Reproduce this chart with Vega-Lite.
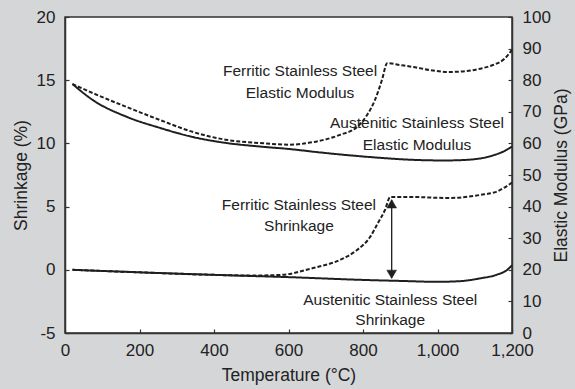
{
  "$schema": "https://vega.github.io/schema/vega-lite/v6.json",
  "width": 447,
  "height": 316,
  "autosize": {"type": "none"},
  "padding": {"left": 65, "top": 17, "right": 63, "bottom": 56},
  "background": "#d5d6d8",
  "config": {
    "view": {"fill": "white", "stroke": "#333333", "strokeWidth": 1.5},
    "font": "Liberation Sans",
    "text": {"font": "Liberation Sans"},
    "axis": {
      "labelFont": "Liberation Sans",
      "titleFont": "Liberation Sans",
      "labelFontSize": 17,
      "titleFontSize": 17.5,
      "titleFontWeight": "normal",
      "labelColor": "#222222",
      "titleColor": "#222222",
      "domainColor": "#333333",
      "domainWidth": 1.5,
      "tickColor": "#333333",
      "tickWidth": 1.2,
      "tickSize": -4,
      "grid": false
    }
  },
  "datasets": {
    "shrinkage": [
      {"series": "Ferritic", "T": 20, "s": 0},
      {"series": "Ferritic", "T": 200, "s": -0.2},
      {"series": "Ferritic", "T": 400, "s": -0.4},
      {"series": "Ferritic", "T": 500, "s": -0.45},
      {"series": "Ferritic", "T": 577, "s": -0.41},
      {"series": "Ferritic", "T": 666, "s": 0.14},
      {"series": "Ferritic", "T": 738, "s": 0.78},
      {"series": "Ferritic", "T": 784, "s": 1.57},
      {"series": "Ferritic", "T": 819, "s": 2.59},
      {"series": "Ferritic", "T": 840, "s": 3.7},
      {"series": "Ferritic", "T": 859, "s": 4.73},
      {"series": "Ferritic", "T": 873, "s": 5.76},
      {"series": "Ferritic", "T": 934, "s": 5.76},
      {"series": "Ferritic", "T": 1026, "s": 5.68},
      {"series": "Ferritic", "T": 1114, "s": 5.92},
      {"series": "Ferritic", "T": 1160, "s": 6.2},
      {"series": "Ferritic", "T": 1200, "s": 6.9},
      {"series": "Austenitic", "T": 20, "s": 0},
      {"series": "Austenitic", "T": 200, "s": -0.2},
      {"series": "Austenitic", "T": 400, "s": -0.4},
      {"series": "Austenitic", "T": 600, "s": -0.58},
      {"series": "Austenitic", "T": 800, "s": -0.8},
      {"series": "Austenitic", "T": 900, "s": -0.88},
      {"series": "Austenitic", "T": 1000, "s": -0.95},
      {"series": "Austenitic", "T": 1060, "s": -0.9},
      {"series": "Austenitic", "T": 1114, "s": -0.68},
      {"series": "Austenitic", "T": 1160, "s": -0.38},
      {"series": "Austenitic", "T": 1185, "s": -0.05},
      {"series": "Austenitic", "T": 1200, "s": 0.35}
    ],
    "modulus": [
      {"series": "Ferritic", "T": 20, "m": 78.8},
      {"series": "Ferritic", "T": 75, "m": 75.9},
      {"series": "Ferritic", "T": 166, "m": 71.5},
      {"series": "Ferritic", "T": 255, "m": 67.4},
      {"series": "Ferritic", "T": 344, "m": 63.6},
      {"series": "Ferritic", "T": 435, "m": 61.1},
      {"series": "Ferritic", "T": 524, "m": 60.1},
      {"series": "Ferritic", "T": 604, "m": 59.6},
      {"series": "Ferritic", "T": 666, "m": 60.4},
      {"series": "Ferritic", "T": 738, "m": 62.7},
      {"series": "Ferritic", "T": 784, "m": 65.2},
      {"series": "Ferritic", "T": 811, "m": 69.0},
      {"series": "Ferritic", "T": 832, "m": 73.7},
      {"series": "Ferritic", "T": 851, "m": 80.1},
      {"series": "Ferritic", "T": 865, "m": 85.4},
      {"series": "Ferritic", "T": 900, "m": 84.8},
      {"series": "Ferritic", "T": 934, "m": 84.2},
      {"series": "Ferritic", "T": 980, "m": 83.2},
      {"series": "Ferritic", "T": 1026, "m": 82.6},
      {"series": "Ferritic", "T": 1079, "m": 82.9},
      {"series": "Ferritic", "T": 1120, "m": 83.8},
      {"series": "Ferritic", "T": 1149, "m": 84.8},
      {"series": "Ferritic", "T": 1180, "m": 86.8},
      {"series": "Ferritic", "T": 1200, "m": 89.6},
      {"series": "Austenitic", "T": 20, "m": 78.8},
      {"series": "Austenitic", "T": 75, "m": 73.7},
      {"series": "Austenitic", "T": 166, "m": 68.4},
      {"series": "Austenitic", "T": 255, "m": 64.9},
      {"series": "Austenitic", "T": 344, "m": 62.0},
      {"series": "Austenitic", "T": 435, "m": 60.1},
      {"series": "Austenitic", "T": 524, "m": 59.0},
      {"series": "Austenitic", "T": 604, "m": 58.2},
      {"series": "Austenitic", "T": 680, "m": 57.2},
      {"series": "Austenitic", "T": 757, "m": 56.3},
      {"series": "Austenitic", "T": 850, "m": 55.4},
      {"series": "Austenitic", "T": 934, "m": 54.8},
      {"series": "Austenitic", "T": 1020, "m": 54.6},
      {"series": "Austenitic", "T": 1079, "m": 54.8},
      {"series": "Austenitic", "T": 1149, "m": 56.2},
      {"series": "Austenitic", "T": 1180, "m": 57.6},
      {"series": "Austenitic", "T": 1200, "m": 59.0}
    ],
    "labels": [
      {"T": 631, "s": 15.69, "text": "Ferritic Stainless Steel"},
      {"T": 631, "s": 13.95, "text": "Elastic Modulus"},
      {"T": 945, "s": 11.65, "text": "Austenitic Stainless Steel"},
      {"T": 945, "s": 9.91, "text": "Elastic Modulus"},
      {"T": 628, "s": 5.13, "text": "Ferritic Stainless Steel"},
      {"T": 628, "s": 3.43, "text": "Shrinkage"},
      {"T": 873, "s": -2.35, "text": "Austenitic Stainless Steel"},
      {"T": 873, "s": -3.97, "text": "Shrinkage"}
    ],
    "arrow": [
      {"T": 877, "s_top": 5.5, "s_bot": -0.6}
    ],
    "arrowheads": [
      {"T": 877, "s": 5.22, "dir": "up"},
      {"T": 877, "s": -0.36, "dir": "down"}
    ]
  },
  "layer": [
    {
      "layer": [
        {
          "data": {"name": "shrinkage"},
          "mark": {"type": "line", "interpolate": "monotone", "strokeWidth": 2, "color": "#1e1e1e"},
          "encoding": {
            "x": {"field": "T", "type": "quantitative", "scale": {"domain": [0, 1200], "nice": false},
                  "axis": {"title": "Temperature (°C)", "values": [0, 200, 400, 600, 800, 1000, 1200], "format": ",d", "labelPadding": 13, "titlePadding": 8, "labelFlush": false}},
            "y": {"field": "s", "type": "quantitative", "scale": {"domain": [-5, 20], "nice": false},
                  "axis": {"title": "Shrinkage (%)", "values": [-5, 0, 5, 10, 15, 20], "labelExpr": "datum.value < 0 ? '-' + abs(datum.value) : datum.label", "labelPadding": 14, "titlePadding": 6, "labelFlush": false}},
            "strokeDash": {"field": "series", "type": "nominal", "scale": {"domain": ["Ferritic", "Austenitic"], "range": [[4, 2], [1, 0]]}, "legend": null}
          }
        },
        {
          "data": {"name": "arrow"},
          "mark": {"type": "rule", "strokeWidth": 1.3, "color": "#1e1e1e"},
          "encoding": {
            "x": {"field": "T", "type": "quantitative", "title": "Temperature (°C)"},
            "y": {"field": "s_top", "type": "quantitative", "title": "Shrinkage (%)"},
            "y2": {"field": "s_bot"}
          }
        },
        {
          "data": {"name": "arrowheads"},
          "mark": {"type": "point", "filled": true, "size": 95, "fill": "#1e1e1e", "stroke": "#1e1e1e", "strokeWidth": 0.5, "opacity": 1},
          "encoding": {
            "x": {"field": "T", "type": "quantitative", "title": "Temperature (°C)"},
            "y": {"field": "s", "type": "quantitative", "title": "Shrinkage (%)"},
            "shape": {"field": "dir", "type": "nominal", "scale": {"domain": ["up", "down"], "range": ["triangle-up", "triangle-down"]}, "legend": null}
          }
        },
        {
          "data": {"name": "labels"},
          "mark": {"type": "text", "align": "center", "baseline": "middle", "fontSize": 15.5, "color": "#222222", "font": "Liberation Sans"},
          "encoding": {
            "x": {"field": "T", "type": "quantitative", "title": "Temperature (°C)"},
            "y": {"field": "s", "type": "quantitative", "title": "Shrinkage (%)"},
            "text": {"field": "text", "type": "nominal"}
          }
        }
      ]
    },
    {
      "data": {"name": "modulus"},
      "mark": {"type": "line", "interpolate": "monotone", "strokeWidth": 2, "color": "#1e1e1e"},
      "encoding": {
        "x": {"field": "T", "type": "quantitative", "title": "Temperature (°C)"},
        "y": {"field": "m", "type": "quantitative", "scale": {"domain": [0, 100], "nice": false},
              "axis": {"orient": "right", "title": "Elastic Modulus (GPa)", "titleAngle": 270, "values": [0, 10, 20, 30, 40, 50, 60, 70, 80, 90, 100], "labelPadding": 14, "titlePadding": 20, "labelFlush": false}},
        "strokeDash": {"field": "series", "type": "nominal", "scale": {"domain": ["Ferritic", "Austenitic"], "range": [[4, 2], [1, 0]]}, "legend": null}
      }
    }
  ],
  "resolve": {"scale": {"y": "independent"}}
}
